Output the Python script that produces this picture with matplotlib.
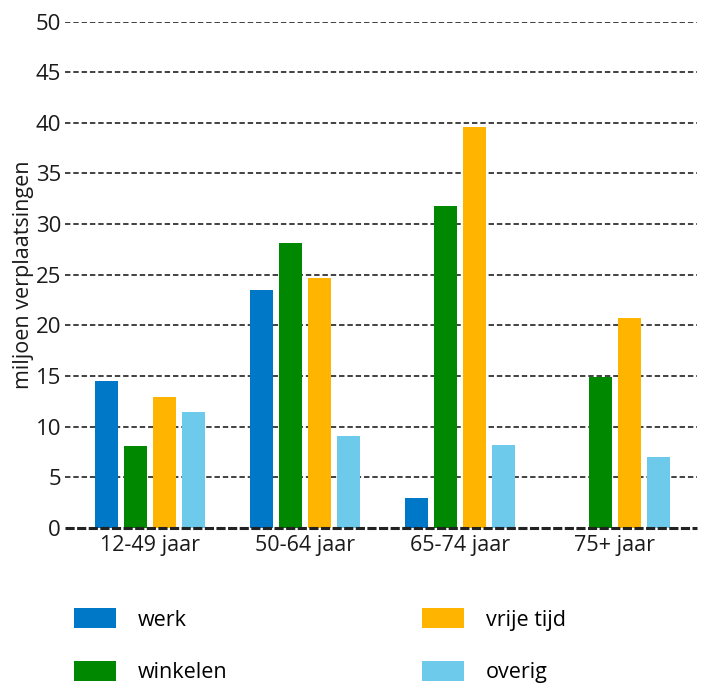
import matplotlib
matplotlib.use("Agg")
import matplotlib.pyplot as plt
import numpy as np
from matplotlib.patches import Patch

plt.rcParams['font.family'] = ['Open Sans', 'DejaVu Sans']

groepen = ['12-49 jaar', '50-64 jaar', '65-74 jaar', '75+ jaar']
motieven = ['werk', 'winkelen', 'vrije tijd', 'overig']
werk = [14.5, 23.5, 2.9, 0]
winkelen = [8.1, 28.1, 31.8, 14.9]
vrije_tijd = [12.95, 24.7, 39.6, 20.7]
overig = [11.4, 9.1, 8.2, 7.0]
kleuren = ['#0078c8', '#008800', '#ffb500', '#6dcaea']

reeksen = [werk, winkelen, vrije_tijd, overig]

fig = plt.figure(figsize=(7.01, 6.93), dpi=100)
ax = fig.add_axes([0.093, 0.2385, 0.901, 0.7302])

x = np.arange(len(groepen))
pitch = 0.187
breedte = 0.148
for i, (vals, kl) in enumerate(zip(reeksen, kleuren)):
    ax.bar(x + (i - 1.5) * pitch, vals, breedte, color=kl, zorder=3)

ax.set_xlim(-0.55, 3.53)
ax.set_ylim(0, 50)
ax.set_yticks(range(0, 51, 5))
for yv in range(5, 51, 5):
    ax.axhline(yv, color='#333333', linewidth=1.3, linestyle=(0, (3, 1.6)), zorder=1)
ax.axhline(0, color='#222222', linewidth=2.2, linestyle=(0, (3, 0.8)), zorder=4, clip_on=False)

for s in ax.spines.values():
    s.set_visible(False)
ax.tick_params(axis='y', length=0, labelsize=16, colors='#1a1a1a', pad=3)
ax.tick_params(axis='x', length=0, labelsize=15.5, colors='#1a1a1a', pad=5)
ax.set_xticks(x)
ax.set_xticklabels(groepen)
ax.set_ylabel('miljoen verplaatsingen', fontsize=15.5, color='#1a1a1a', labelpad=1)

handles = [Patch(facecolor=k, edgecolor='none', label=m) for m, k in zip(motieven, kleuren)]
fig.legend(handles=handles, ncol=2, loc='upper left', bbox_to_anchor=(0.0927, 0.135),
           frameon=False, fontsize=15.5, handlelength=1.98, handleheight=1.08,
           handletextpad=1.02, columnspacing=9.0, labelspacing=1.4, borderaxespad=0)

fig.savefig('out.png', dpi=100)
